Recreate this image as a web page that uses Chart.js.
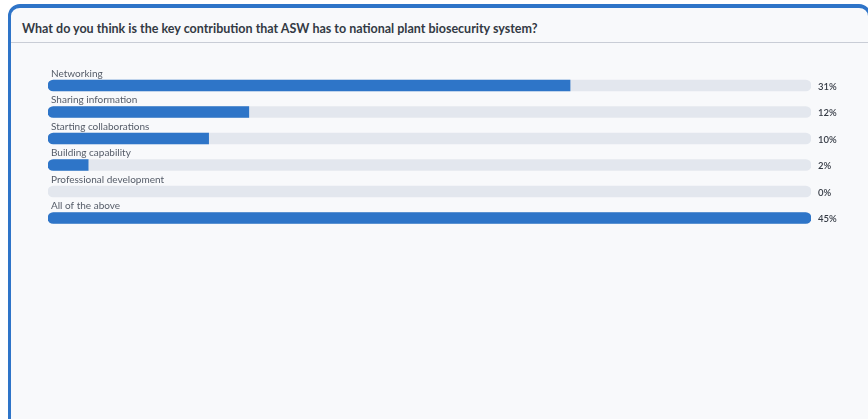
<!DOCTYPE html>
<html>
<head>
<meta charset="utf-8">
<script src="https://cdn.jsdelivr.net/npm/chart.js@4"></script>
<style>
    body {
        margin: 0;
        background: #ffffff;
        font-family: Lato, "Noto Sans", sans-serif;
        width: 868px;
        height: 419px;
        overflow: hidden;
        position: relative;
    }
    .card {
        position: absolute;
        left: 8px;
        top: 4px;
        width: 857px;
        height: 430px;
        background: #f8f9fb;
        border: 3px solid #2e74c8;
        border-top-width: 4px;
        border-radius: 12px;
    }
    .title {
        position: absolute;
        left: 11px;
        top: 13px;
        font-size: 12.5px;
        font-weight: 700;
        color: #333a44;
        white-space: nowrap;
    }
    .divider {
        position: absolute;
        left: 0;
        right: 0;
        top: 34px;
        border-top: 1px solid #c9cdd6;
    }
    .chart-box {
        position: absolute;
        left: 0;
        top: 60px;
        width: 868px;
        height: 180px;
    }
</style>
</head>
<body>
<div class="card">
    <div class="title">What do you think is the key contribution that ASW has to national plant biosecurity system?</div>
    <div class="divider"></div>
</div>
<div class="chart-box"><canvas id="surveyChart"></canvas></div>
<script>
// survey answers (number of respondents per option)
const categories = [
    'Networking',
    'Sharing information',
    'Starting collaborations',
    'Building capability',
    'Professional development',
    'All of the above'
];
const responses = [13, 5, 4, 1, 0, 19];
const totalResponses = 42;

const maxResponses = Math.max(...responses);
const trackValues = categories.map(() => maxResponses);
const percentLabels = responses.map(v => Math.round(v / totalResponses * 100) + '%');

// labels above each bar and percentage at the end of the track
const labelPlugin = {
    id: 'rowLabels',
    afterDatasetsDraw(chart) {
        const ctx = chart.ctx;
        const meta = chart.getDatasetMeta(1);
        const area = chart.chartArea;
        ctx.save();
        ctx.textBaseline = 'middle';
        meta.data.forEach((bar, i) => {
            ctx.font = '10px Lato, "Noto Sans", sans-serif';
            ctx.fillStyle = '#555c68';
            ctx.textAlign = 'left';
            ctx.fillText(categories[i], area.left + 3, bar.y - 12);

            ctx.font = '600 9.5px Lato, "Noto Sans", sans-serif';
            ctx.fillStyle = '#343a44';
            ctx.fillText(percentLabels[i], area.right + 7, bar.y + 1);
        });
        ctx.restore();
    }
};

const roundedLeft = { topLeft: 6, bottomLeft: 6, topRight: 0, bottomRight: 0 };
const roundedAll = { topLeft: 6, bottomLeft: 6, topRight: 6, bottomRight: 6 };

new Chart(document.getElementById('surveyChart'), {
    type: 'bar',
    data: {
        labels: categories,
        datasets: [
            {
                label: 'track',
                data: trackValues,
                backgroundColor: '#e3e7ee',
                borderRadius: roundedAll,
                borderSkipped: false,
                barThickness: 11,
                grouped: false,
                order: 2
            },
            {
                label: 'responses',
                data: responses,
                // no sliver for options nobody picked
                backgroundColor: ctx => (ctx.raw > 0 ? '#2e75c8' : 'rgba(0,0,0,0)'),
                borderRadius: ctx => (ctx.raw >= maxResponses ? roundedAll : roundedLeft),
                borderSkipped: false,
                barThickness: 11,
                grouped: false,
                order: 1
            }
        ]
    },
    options: {
        indexAxis: 'y',
        responsive: true,
        maintainAspectRatio: false,
        animation: false,
        layout: {
            padding: { left: 48, right: 57, top: 12.25, bottom: 8.75 }
        },
        scales: {
            x: { display: false, min: 0, max: maxResponses },
            y: { display: false }
        },
        plugins: {
            legend: { display: false },
            tooltip: { enabled: false }
        }
    },
    plugins: [labelPlugin]
});
</script>
</body>
</html>
